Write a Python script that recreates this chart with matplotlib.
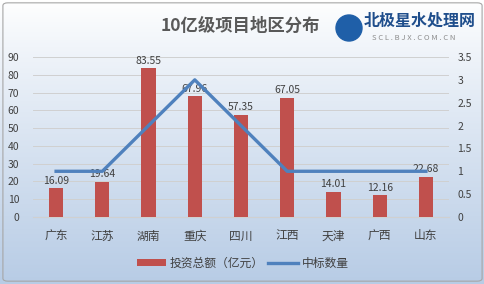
import matplotlib.pyplot as plt
import numpy as np
from matplotlib.patches import FancyBboxPatch, Ellipse

plt.rcParams['font.family'] = ['Noto Sans CJK SC', 'DejaVu Sans']

regions = ['广东', '江苏', '湖南', '重庆', '四川', '江西', '天津', '广西', '山东']
invest = [16.09, 19.64, 83.55, 67.96, 57.35, 67.05, 14.01, 12.16, 22.68]
bids = [1, 1, 2, 3, 2, 1, 1, 1, 1]

fig = plt.figure(figsize=(4.85, 2.84), dpi=100)

# gradient background
bg = fig.add_axes([0, 0, 1, 1], zorder=-10)
grad = np.linspace(0, 1, 256).reshape(-1, 1)
top = np.array([1.0, 1.0, 1.0])
bot = np.array([0.72, 0.80, 0.90])
img = top + (bot - top) * grad[:, :, None] ** 0.9
bg.imshow(img, aspect='auto', extent=[0, 1, 0, 1], origin='upper')
bg.add_patch(FancyBboxPatch((0.006, 0.01), 0.988, 0.98, boxstyle='round,pad=0,rounding_size=0.01',
                            fill=False, edgecolor='#A6A6A6', linewidth=0.8))
bg.set_xlim(0, 1)
bg.set_ylim(0, 1)
bg.axis('off')

ax = fig.add_axes([33 / 485, 1 - 217 / 284, 416 / 485, 160 / 284])
ax.patch.set_alpha(0)
x = np.arange(len(regions))
ax.bar(x, invest, width=0.31, color='#C0504D', zorder=3, label='投资总额（亿元）')
for xi, v in zip(x, invest):
    ax.text(xi, v + 1.5, f'{v:.2f}', ha='center', va='bottom',
            fontsize=7.5, color='#404040', zorder=6)
ax.set_ylim(0, 90)
ax.set_xlim(-0.5, len(regions) - 0.5)
ax.set_yticks(range(0, 91, 10))
ax.grid(axis='y', color='#D0D0D0', linewidth=0.7, zorder=0)
ax.set_xticks(x)
ax.set_xticklabels(regions, fontsize=8.5, color='#404040')
ax.tick_params(axis='y', labelsize=7.5, colors='#404040', length=0, pad=10)
ax.tick_params(axis='x', length=0, pad=9)
for s in ax.spines.values():
    s.set_visible(False)
ax.spines['bottom'].set_visible(True)
ax.spines['bottom'].set_color('#D0D0D0')

ax2 = ax.twinx()
ax2.plot(x, bids, color='#4F81BD', linewidth=2.4, zorder=4, label='中标数量')
ax2.set_ylim(0, 3.5)
ax2.set_yticks(np.arange(0, 3.6, 0.5))
ax2.set_yticklabels(['0', '0.5', '1', '1.5', '2', '2.5', '3', '3.5'])
ax2.tick_params(axis='y', labelsize=7.5, colors='#404040', length=0, pad=6)
for s in ax2.spines.values():
    s.set_visible(False)

h1, l1 = ax.get_legend_handles_labels()
h2, l2 = ax2.get_legend_handles_labels()
fig.legend(h1 + h2, l1 + l2, loc='center', bbox_to_anchor=(0.5, 1 - 263 / 284), ncol=2,
           frameon=False, fontsize=8.5, handlelength=2.5, handleheight=0.5, columnspacing=0.4,
           handletextpad=0.3, labelcolor='#404040')

fig.text(0.495, 1 - 26 / 284, '10亿级项目地区分布', ha='center', va='center', fontsize=12.5,
         fontweight='bold', color='#595959')

# watermark logo
fig.add_artist(Ellipse((349 / 485, 1 - 28 / 284), 26 / 485, 26 / 284, color='#1F5FA8',
                       transform=fig.transFigure))
fig.text(364 / 485, 1 - 21 / 284, '北极星水处理网', ha='left', va='center', fontsize=11.5,
         fontweight='bold', color='#1F4E8C')
fig.text(372 / 485, 1 - 38 / 284, 'S C L . B J X . C O M . C N', ha='left', va='center',
         fontsize=5.5, color='#8C8C8C')

fig.savefig('out.png', dpi=100)
